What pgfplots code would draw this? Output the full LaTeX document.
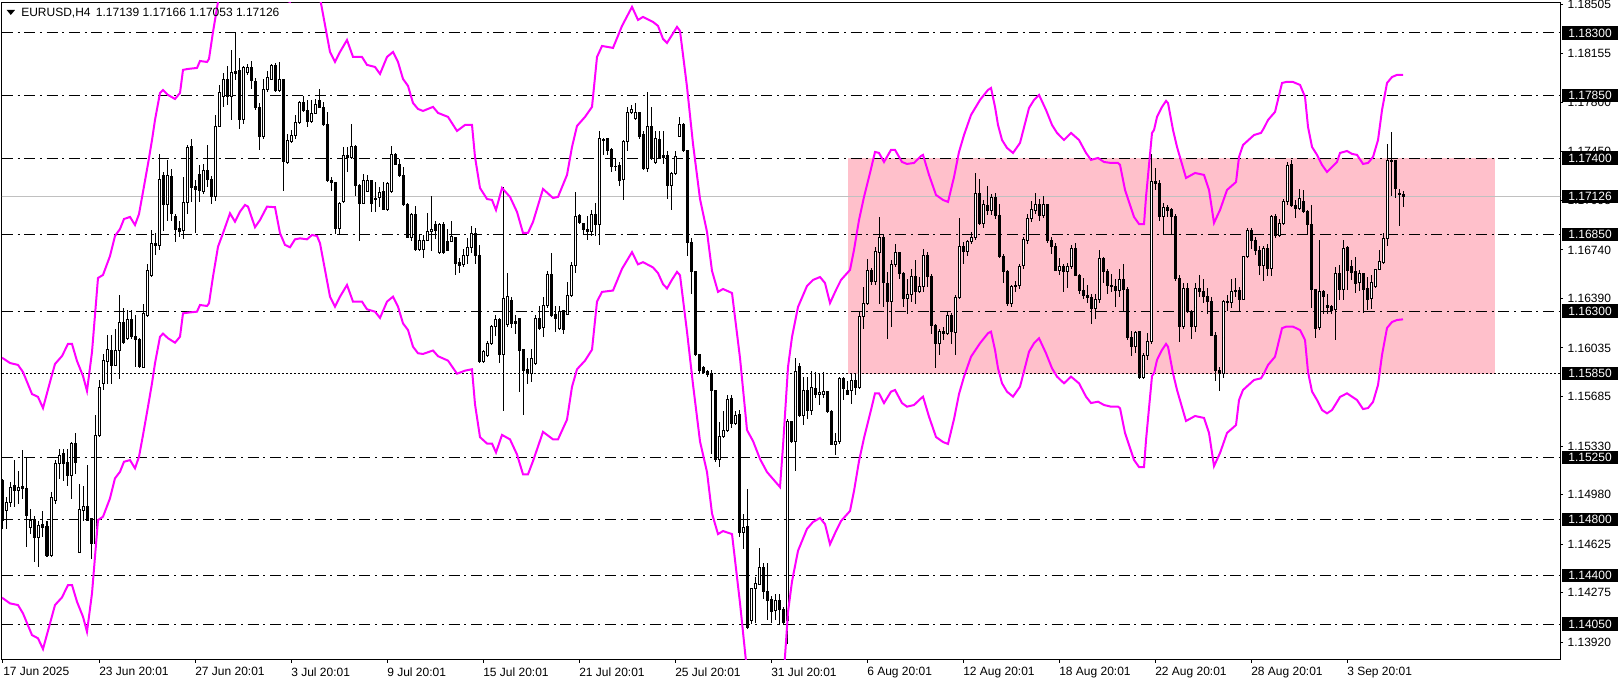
\documentclass[border=0pt]{standalone}
\usepackage{fontspec}
\setmainfont{Liberation Sans}
\usepackage{pgfplots}
\pgfplotsset{compat=1.18}
\usepackage{pgfplotstable}

\definecolor{envmag}{RGB}{255,0,255}
\definecolor{zonepink}{RGB}{255,192,203}
\definecolor{bidgrey}{RGB}{192,192,192}

% EURUSD H4 candles: bar index, open, high, low, close
\pgfplotstableread{
k o h l c
0 1.15083 1.15095 1.14735 1.14795
1 1.14867 1.14963 1.14735 1.14927
2 1.14927 1.15071 1.14891 1.15035
3 1.15047 1.15227 1.14891 1.15011
4 1.15011 1.15155 1.14915 1.15035
5 1.15040 1.15299 1.14951 1.15023
6 1.15023 1.15251 1.14603 1.14831
7 1.14747 1.14879 1.14699 1.14795
8 1.14800 1.14831 1.14495 1.14675
9 1.14675 1.14795 1.14459 1.14759
10 1.14764 1.14867 1.14675 1.14747
11 1.14752 1.14795 1.14536 1.14543
12 1.14543 1.14999 1.14536 1.14963
13 1.14939 1.15232 1.14915 1.15203
14 1.15203 1.15311 1.15095 1.15263
15 1.15275 1.15311 1.15083 1.15203
16 1.15215 1.15311 1.15047 1.15119
17 1.15119 1.15359 1.14951 1.15352
18 1.15347 1.15424 1.15131 1.15215
19 1.14567 1.15059 1.14562 1.14872
20 1.14867 1.15047 1.14795 1.14896
21 1.14896 1.15191 1.14790 1.14795
22 1.14807 1.14810 1.14519 1.14632
23 1.14632 1.15551 1.14627 1.15407
24 1.15407 1.15803 1.15395 1.15755
25 1.15779 1.15995 1.15731 1.15942
26 1.15942 1.16127 1.15779 1.16024
27 1.16019 1.16127 1.15779 1.15911
28 1.15911 1.16175 1.15905 1.16019
29 1.16019 1.16415 1.15815 1.16218
30 1.16218 1.16319 1.16067 1.16072
31 1.16103 1.16307 1.16091 1.16240
32 1.16240 1.16307 1.16103 1.16115
33 1.16120 1.16271 1.15899 1.16096
34 1.16096 1.16110 1.15895 1.15899
35 1.15899 1.16350 1.15895 1.16283
36 1.16271 1.16643 1.16259 1.16595
37 1.16559 1.16883 1.16547 1.16787
38 1.16787 1.16859 1.16703 1.16775
39 1.16775 1.17432 1.16739 1.17244
40 1.17276 1.17300 1.16878 1.17071
41 1.17071 1.17384 1.16950 1.17276
42 1.17271 1.17324 1.16950 1.17003
43 1.16979 1.16999 1.16794 1.16890
44 1.16893 1.16950 1.16830 1.16873
45 1.16878 1.17264 1.16818 1.17083
46 1.17083 1.17493 1.16999 1.17481
47 1.17481 1.17541 1.17083 1.17187
48 1.17196 1.17240 1.16866 1.17177
49 1.17283 1.17348 1.17083 1.17167
50 1.17162 1.17360 1.17143 1.17312
51 1.17312 1.17493 1.17191 1.17244
52 1.17244 1.17276 1.17071 1.17124
53 1.17124 1.17710 1.17095 1.17630
54 1.17630 1.17926 1.17625 1.17873
55 1.17842 1.18016 1.17770 1.17967
56 1.17967 1.18059 1.17782 1.17842
57 1.17842 1.18175 1.17673 1.18016
58 1.18011 1.18300 1.17963 1.18023
59 1.18028 1.18119 1.17613 1.17678
60 1.17678 1.18064 1.17644 1.18052
61 1.18016 1.18076 1.17999 1.18054
62 1.18054 1.18102 1.17895 1.17958
63 1.17955 1.17975 1.17746 1.17765
64 1.17765 1.17794 1.17461 1.17553
65 1.17553 1.17967 1.17540 1.17895
66 1.17895 1.18030 1.17878 1.17982
67 1.17963 1.18078 1.17958 1.18064
68 1.18064 1.18088 1.17878 1.17883
69 1.17883 1.18095 1.17875 1.17963
70 1.17963 1.17970 1.17162 1.17379
71 1.17372 1.17577 1.17360 1.17524
72 1.17517 1.17601 1.17510 1.17565
73 1.17565 1.17710 1.17541 1.17657
74 1.17657 1.17813 1.17649 1.17799
75 1.17799 1.17847 1.17734 1.17741
76 1.17746 1.17818 1.17625 1.17661
77 1.17661 1.17818 1.17655 1.17722
78 1.17722 1.17823 1.17717 1.17789
79 1.17818 1.17895 1.17758 1.17765
80 1.17765 1.17804 1.17630 1.17642
81 1.17642 1.17734 1.17228 1.17240
82 1.17240 1.17264 1.17167 1.17223
83 1.17223 1.17228 1.16854 1.16897
84 1.16897 1.17083 1.16854 1.17071
85 1.17090 1.17481 1.17076 1.17420
86 1.17420 1.17481 1.17300 1.17408
87 1.17408 1.17644 1.17396 1.17485
88 1.17485 1.17493 1.17131 1.17203
89 1.17203 1.17215 1.16806 1.17076
90 1.17076 1.17283 1.17071 1.17240
91 1.17162 1.17283 1.17155 1.17240
92 1.17240 1.17244 1.17011 1.17076
93 1.17114 1.17228 1.17011 1.17105
94 1.17119 1.17191 1.17047 1.17155
95 1.17162 1.17228 1.17028 1.17035
96 1.17035 1.17228 1.17023 1.17220
97 1.17162 1.17485 1.17148 1.17428
98 1.17428 1.17437 1.17348 1.17355
99 1.17355 1.17396 1.17264 1.17276
100 1.17273 1.17336 1.17059 1.17064
101 1.17064 1.17076 1.16825 1.16830
102 1.16830 1.17003 1.16806 1.16994
103 1.16994 1.17059 1.16734 1.16746
104 1.16741 1.16854 1.16734 1.16806
105 1.16746 1.16849 1.16685 1.16811
106 1.16811 1.17003 1.16806 1.16873
107 1.16873 1.17131 1.16734 1.16890
108 1.16926 1.16950 1.16818 1.16878
109 1.16721 1.16931 1.16709 1.16921
110 1.16926 1.16945 1.16709 1.16721
111 1.16801 1.16890 1.16734 1.16739
112 1.16801 1.16950 1.16794 1.16835
113 1.16830 1.16835 1.16560 1.16640
114 1.16653 1.16684 1.16575 1.16631
115 1.16637 1.16747 1.16615 1.16700
116 1.16700 1.16826 1.16637 1.16757
117 1.16757 1.16911 1.16716 1.16857
118 1.16857 1.16898 1.16640 1.16700
119 1.16700 1.16780 1.15931 1.15937
120 1.15937 1.16025 1.15925 1.16009
121 1.15978 1.16088 1.15969 1.16066
122 1.16066 1.16198 1.16056 1.16189
123 1.16189 1.16276 1.16119 1.16239
124 1.16239 1.16251 1.15925 1.15987
125 1.15987 1.17190 1.15580 1.16393
126 1.16207 1.16575 1.16189 1.16402
127 1.16377 1.16402 1.16182 1.16213
128 1.16229 1.16276 1.16135 1.16213
129 1.16245 1.16250 1.15717 1.16019
130 1.16025 1.16030 1.15554 1.15874
131 1.15884 1.15962 1.15774 1.15853
132 1.15853 1.16025 1.15790 1.15962
133 1.15925 1.16276 1.15915 1.16245
134 1.16245 1.16339 1.16167 1.16176
135 1.16182 1.16402 1.16113 1.16339
136 1.16339 1.16590 1.16323 1.16565
137 1.16565 1.16716 1.16261 1.16270
138 1.16276 1.16339 1.16151 1.16245
139 1.16176 1.16339 1.16167 1.16301
140 1.16301 1.16305 1.16135 1.16167
141 1.16276 1.16512 1.16270 1.16414
142 1.16414 1.16653 1.16402 1.16628
143 1.16628 1.17155 1.16575 1.16983
144 1.16989 1.16998 1.16929 1.16936
145 1.16929 1.16935 1.16857 1.16889
146 1.16889 1.16983 1.16810 1.16873
147 1.16873 1.17030 1.16841 1.16998
148 1.16998 1.17077 1.16841 1.16920
149 1.16920 1.17595 1.16779 1.17538
150 1.17538 1.17545 1.17422 1.17526
151 1.17538 1.17548 1.17422 1.17454
152 1.17463 1.17470 1.17297 1.17338
153 1.17344 1.17391 1.17310 1.17338
154 1.17344 1.17370 1.17203 1.17243
155 1.17243 1.17532 1.17102 1.17517
156 1.17517 1.17768 1.17454 1.17727
157 1.17727 1.17783 1.17715 1.17752
158 1.17683 1.17799 1.17675 1.17727
159 1.17727 1.17735 1.17538 1.17557
160 1.17570 1.17595 1.17312 1.17328
161 1.17328 1.17878 1.17297 1.17626
162 1.17626 1.17768 1.17391 1.17407
163 1.17369 1.17595 1.17360 1.17538
164 1.17538 1.17595 1.17400 1.17407
165 1.17407 1.17595 1.17360 1.17422
166 1.17422 1.17454 1.17108 1.17203
167 1.17203 1.17297 1.17024 1.17287
168 1.17287 1.17454 1.17280 1.17413
169 1.17557 1.17695 1.17550 1.17642
170 1.17642 1.17650 1.17444 1.17454
171 1.17454 1.17460 1.16700 1.16794
172 1.16794 1.16826 1.16427 1.16584
173 1.16584 1.16590 1.15978 1.15987
174 1.15987 1.15990 1.15852 1.15874
175 1.15893 1.15905 1.15850 1.15862
176 1.15868 1.15880 1.15830 1.15843
177 1.15853 1.15875 1.15271 1.15727
178 1.15727 1.15730 1.15215 1.15234
179 1.15234 1.15507 1.15184 1.15397
180 1.15397 1.15585 1.15390 1.15444
181 1.15444 1.15695 1.15430 1.15664
182 1.15673 1.15695 1.15460 1.15491
183 1.15491 1.15585 1.15480 1.15554
184 1.15560 1.15592 1.14675 1.14712
185 1.14712 1.14838 1.14587 1.14744
186 1.14753 1.15020 1.14015 1.14031
187 1.14078 1.14310 1.14050 1.14304
188 1.14304 1.14392 1.14062 1.14345
189 1.14336 1.14596 1.14330 1.14455
190 1.14455 1.14493 1.14235 1.14282
191 1.14282 1.14493 1.14078 1.14219
192 1.14229 1.14250 1.14060 1.14141
193 1.14147 1.14270 1.14078 1.14219
194 1.14219 1.14270 1.14047 1.14157
195 1.14157 1.14170 1.14047 1.14062
196 1.14078 1.15523 1.13906 1.15507
197 1.15507 1.15510 1.15350 1.15366
198 1.15366 1.15962 1.15152 1.15868
199 1.15905 1.15925 1.15540 1.15553
200 1.15553 1.15829 1.15481 1.15728
201 1.15728 1.15829 1.15529 1.15584
202 1.15584 1.15872 1.15553 1.15752
203 1.15745 1.15865 1.15673 1.15701
204 1.15701 1.15853 1.15625 1.15718
205 1.15700 1.15865 1.15680 1.15720
206 1.15719 1.15728 1.15565 1.15577
207 1.15577 1.15589 1.15337 1.15344
208 1.15344 1.15421 1.15265 1.15361
209 1.15361 1.15829 1.15349 1.15817
210 1.15817 1.15824 1.15661 1.15745
211 1.15733 1.15800 1.15697 1.15704
212 1.15733 1.15853 1.15632 1.15805
213 1.15805 1.15853 1.15697 1.15752
214 1.15752 1.16295 1.15740 1.16259
215 1.16259 1.16475 1.16175 1.16355
216 1.16355 1.16679 1.16343 1.16595
217 1.16595 1.16607 1.16487 1.16511
218 1.16511 1.16763 1.16487 1.16727
219 1.16719 1.16979 1.16355 1.16830
220 1.16830 1.16847 1.16331 1.16503
221 1.16503 1.16583 1.16103 1.16367
222 1.16367 1.16667 1.16187 1.16638
223 1.16638 1.16787 1.16619 1.16719
224 1.16719 1.16727 1.16528 1.16571
225 1.16571 1.16583 1.16331 1.16391
226 1.16391 1.16535 1.16283 1.16422
227 1.16422 1.16607 1.16367 1.16547
228 1.16547 1.16667 1.16355 1.16439
229 1.16439 1.16547 1.16430 1.16475
230 1.16475 1.16751 1.16439 1.16703
231 1.16703 1.16727 1.16475 1.16547
232 1.16547 1.16565 1.16139 1.16199
233 1.16199 1.16206 1.15894 1.16067
234 1.16067 1.16175 1.15983 1.16151
235 1.16151 1.16187 1.16091 1.16139
236 1.16139 1.16295 1.16127 1.16271
237 1.16271 1.16290 1.16067 1.16151
238 1.16151 1.16415 1.15983 1.16398
239 1.16398 1.16967 1.16391 1.16768
240 1.16768 1.16799 1.16643 1.16727
241 1.16727 1.16811 1.16700 1.16799
242 1.16799 1.16870 1.16780 1.16830
243 1.16830 1.17290 1.16811 1.17147
244 1.17147 1.17250 1.16920 1.16931
245 1.16931 1.17100 1.16900 1.17063
246 1.17063 1.17200 1.16991 1.17027
247 1.17027 1.17140 1.16990 1.17118
248 1.17118 1.17150 1.16960 1.16991
249 1.16991 1.17070 1.16680 1.16696
250 1.16696 1.16710 1.16500 1.16583
251 1.16583 1.16600 1.16340 1.16355
252 1.16355 1.16490 1.16331 1.16475
253 1.16475 1.16520 1.16440 1.16487
254 1.16487 1.16640 1.16460 1.16624
255 1.16624 1.16835 1.16600 1.16811
256 1.16811 1.17000 1.16780 1.16967
257 1.16967 1.17090 1.16940 1.17027
258 1.17027 1.17150 1.17000 1.17070
259 1.17070 1.17110 1.16950 1.16991
260 1.16991 1.17130 1.16970 1.17070
261 1.17070 1.17075 1.16790 1.16811
262 1.16811 1.16830 1.16710 1.16763
263 1.16763 1.16790 1.16590 1.16595
264 1.16595 1.16680 1.16560 1.16619
265 1.16619 1.16640 1.16440 1.16583
266 1.16583 1.16650 1.16470 1.16619
267 1.16619 1.16775 1.16600 1.16751
268 1.16751 1.16790 1.16550 1.16559
269 1.16559 1.16570 1.16420 1.16451
270 1.16451 1.16540 1.16390 1.16415
271 1.16415 1.16490 1.16360 1.16400
272 1.16400 1.16420 1.16210 1.16319
273 1.16319 1.16420 1.16240 1.16384
274 1.16384 1.16740 1.16360 1.16679
275 1.16679 1.16690 1.16500 1.16583
276 1.16583 1.16600 1.16420 1.16487
277 1.16487 1.16570 1.16440 1.16475
278 1.16475 1.16530 1.16330 1.16451
279 1.16451 1.16600 1.16400 1.16528
280 1.16528 1.16640 1.16300 1.16456
281 1.16456 1.16470 1.16090 1.16110
282 1.16110 1.16160 1.15980 1.16048
283 1.16048 1.16160 1.16000 1.16151
284 1.16151 1.16160 1.15810 1.15827
285 1.15827 1.16000 1.15810 1.15983
286 1.15983 1.16140 1.15950 1.16079
287 1.16079 1.17430 1.16060 1.17231
288 1.17231 1.17330 1.17170 1.17219
289 1.17219 1.17240 1.16950 1.16979
290 1.16979 1.17080 1.16850 1.17046
291 1.17046 1.17060 1.16980 1.17027
292 1.17027 1.17040 1.16850 1.16979
293 1.16979 1.17000 1.16520 1.16535
294 1.16535 1.16560 1.16080 1.16192
295 1.16192 1.16500 1.16170 1.16463
296 1.16463 1.16500 1.16290 1.16295
297 1.16295 1.16310 1.16100 1.16187
298 1.16187 1.16500 1.16150 1.16463
299 1.16463 1.16560 1.16400 1.16439
300 1.16439 1.16530 1.16360 1.16403
301 1.16403 1.16470 1.16280 1.16367
302 1.16367 1.16400 1.16120 1.16127
303 1.16127 1.16150 1.15800 1.15875
304 1.15875 1.15900 1.15730 1.15851
305 1.15851 1.16380 1.15820 1.16367
306 1.16367 1.16420 1.16300 1.16360
307 1.16360 1.16530 1.16320 1.16439
308 1.16439 1.16540 1.16400 1.16451
309 1.16451 1.16470 1.16300 1.16384
310 1.16384 1.16700 1.16380 1.16691
311 1.16691 1.16900 1.16680 1.16883
312 1.16883 1.16900 1.16750 1.16811
313 1.16811 1.16830 1.16700 1.16739
314 1.16739 1.16770 1.16560 1.16631
315 1.16631 1.16770 1.16520 1.16751
316 1.16751 1.16780 1.16550 1.16607
317 1.16607 1.16990 1.16550 1.16979
318 1.16979 1.17000 1.16830 1.16847
319 1.16847 1.16960 1.16830 1.16931
320 1.16931 1.17110 1.16920 1.17087
321 1.17087 1.17370 1.17060 1.17351
322 1.17357 1.17386 1.17050 1.17057
323 1.17062 1.17098 1.16966 1.17038
324 1.17038 1.17182 1.17031 1.17110
325 1.17086 1.17170 1.17007 1.17014
326 1.17019 1.17026 1.16853 1.16925
327 1.16925 1.17062 1.16325 1.16455
328 1.16455 1.16460 1.16109 1.16174
329 1.16181 1.16815 1.16167 1.16443
330 1.16443 1.16450 1.16282 1.16402
331 1.16330 1.16426 1.16282 1.16342
332 1.16335 1.16347 1.16282 1.16306
333 1.16311 1.16618 1.16090 1.16570
334 1.16570 1.16630 1.16378 1.16455
335 1.16455 1.16815 1.16378 1.16750
336 1.16757 1.16767 1.16450 1.16594
337 1.16623 1.16666 1.16522 1.16575
338 1.16589 1.16690 1.16431 1.16503
339 1.16503 1.16594 1.16450 1.16570
340 1.16570 1.16575 1.16287 1.16455
341 1.16462 1.16546 1.16306 1.16383
342 1.16390 1.16558 1.16318 1.16503
343 1.16474 1.16606 1.16470 1.16599
344 1.16599 1.16738 1.16595 1.16654
345 1.16654 1.16858 1.16642 1.16822
346 1.16822 1.17501 1.16767 1.17386
347 1.17386 1.17590 1.17127 1.17374
348 1.17386 1.17390 1.17117 1.17182
349 1.17146 1.17182 1.16914 1.17136
350 1.17139 1.17166 1.17053 1.17126
}\candles

% envelope bands (upper, lower)
\pgfplotstableread{
k up lo
-0.25 1.15965 1.14240
1.75 1.15927 1.14199
3.75 1.15913 1.14187
5 1.15862 1.14127
7.25 1.15704 1.13971
8.75 1.15683 1.13948
10 1.15603 1.13871
11.75 1.15790 1.14055
13 1.15920 1.14187
14.75 1.15977 1.14242
16.25 1.16064 1.14331
17.25 1.16064 1.14331
18.5 1.15941 1.14211
20 1.15834 1.14103
21 1.15726 1.13995
22.25 1.16006 1.14271
23.75 1.16538 1.14798
25 1.16560 1.14822
26.75 1.16696 1.14954
28 1.16840 1.15098
29.25 1.16890 1.15145
30.25 1.16962 1.15217
31.75 1.16977 1.15229
33 1.16919 1.15170
34 1.16998 1.15253
35 1.17157 1.15409
36.25 1.17358 1.15613
37.25 1.17530 1.15781
38 1.17674 1.15925
39.25 1.17868 1.16116
40 1.17890 1.16138
41.25 1.17854 1.16105
43 1.17825 1.16073
44.25 1.17868 1.16116
45 1.18034 1.16284
46.25 1.18041 1.16289
48.5 1.18048 1.16296
49.25 1.18098 1.16344
51 1.18091 1.16337
51.5 1.18113 1.16356
52.5 1.18307 1.16548
53.75 1.18523 1.16763
55 1.18616 1.16860
56.75 1.18760 1.17003
58 1.18702 1.16943
59.25 1.18774 1.17015
60.5 1.18825 1.17063
61.25 1.18810 1.17051
63 1.18666 1.16903
64.25 1.18717 1.16955
66 1.18810 1.17051
68 1.18810 1.17047
69.25 1.18623 1.16860
70.5 1.18537 1.16776
71.75 1.18523 1.16759
73 1.18580 1.16816
74.25 1.18587 1.16823
76 1.18580 1.16816
77.25 1.18609 1.16847
78.5 1.18602 1.16840
79.25 1.18551 1.16788
80.5 1.18357 1.16596
81.75 1.18163 1.16404
83 1.18091 1.16332
84.25 1.18163 1.16404
86 1.18249 1.16488
87.5 1.18127 1.16368
89.75 1.18127 1.16368
91 1.18070 1.16313
93 1.18055 1.16296
94.25 1.18005 1.16251
96 1.18127 1.16368
97.5 1.18163 1.16404
98.75 1.18091 1.16332
100 1.17969 1.16212
101.25 1.17919 1.16164
102.5 1.17796 1.16044
103.75 1.17753 1.15997
105 1.17739 1.15992
107.5 1.17768 1.16017
108.75 1.17725 1.15976
111.25 1.17696 1.15944
113.5 1.17595 1.15850
115.5 1.17638 1.15872
117.25 1.17638 1.15882
118 1.17408 1.15630
119.25 1.17185 1.15394
121 1.17106 1.15348
122.25 1.17099 1.15348
123.25 1.17027 1.15284
124.75 1.17185 1.15410
126.75 1.17121 1.15378
128.5 1.17013 1.15269
130 1.16862 1.15127
131.25 1.16862 1.15127
132.5 1.16941 1.15222
135 1.17178 1.15432
137.5 1.17113 1.15378
138.75 1.17121 1.15378
141 1.17279 1.15520
142.25 1.17480 1.15756
143.5 1.17631 1.15882
145.5 1.17696 1.15944
147.25 1.17768 1.16023
148.5 1.18127 1.16369
149.75 1.18206 1.16438
152.5 1.18192 1.16448
154.75 1.18350 1.16604
157.25 1.18487 1.16724
158.75 1.18393 1.16636
160 1.18415 1.16652
162.5 1.18379 1.16614
163.75 1.18350 1.16573
165 1.18257 1.16494
166 1.18228 1.16463
167.25 1.18285 1.16526
168.5 1.18343 1.16582
169.25 1.18314 1.16558
171 1.17912 1.16152
172.5 1.17502 1.15772
174.25 1.17106 1.15363
176 1.16869 1.15143
177.25 1.16589 1.14845
178.75 1.16438 1.14697
180 1.16459 1.14719
182.25 1.16430 1.14697
184.25 1.15963 1.14201
186 1.15445 1.13712
187.5 1.15366 1.13633
189.25 1.15237 1.13511
191 1.15143 1.13418
192.5 1.15093 1.13367
194.25 1.15035 1.13303
195 1.15330 1.13605
196.25 1.15898 1.14137
197.25 1.16114 1.14357
198.75 1.16330 1.14577
201 1.16481 1.14735
202.5 1.16524 1.14784
204.25 1.16545 1.14813
205.5 1.16502 1.14769
206.75 1.16358 1.14624
208.25 1.16452 1.14719
209.5 1.16524 1.14791
211.75 1.16596 1.14863
212.75 1.16740 1.15007
214 1.16955 1.15222
215.25 1.17121 1.15388
216.75 1.17293 1.15560
218 1.17444 1.15709
219 1.17437 1.15709
220.25 1.17372 1.15639
222 1.17459 1.15721
223 1.17459 1.15733
224.75 1.17372 1.15639
226 1.17358 1.15613
227.75 1.17365 1.15625
229.5 1.17415 1.15673
230 1.17423 1.15685
231.5 1.17279 1.15541
233.25 1.17135 1.15395
235 1.17099 1.15359
236.25 1.17085 1.15345
237.75 1.17264 1.15524
239 1.17444 1.15704
240.25 1.17566 1.15829
242 1.17710 1.15972
244.25 1.17818 1.16069
246.25 1.17890 1.16141
247 1.17904 1.16152
248 1.17768 1.16021
248.75 1.17638 1.15889
249.75 1.17530 1.15781
251 1.17473 1.15721
252.5 1.17437 1.15685
254.25 1.17509 1.15757
256.5 1.17760 1.16008
257.75 1.17818 1.16069
259 1.17854 1.16105
260.75 1.17746 1.15997
262.25 1.17638 1.15889
263.5 1.17581 1.15829
265.25 1.17530 1.15781
267 1.17581 1.15829
269 1.17530 1.15781
270.75 1.17437 1.15685
272 1.17387 1.15639
273.75 1.17401 1.15649
275.25 1.17372 1.15625
277 1.17365 1.15613
278.75 1.17365 1.15613
279.25 1.17351 1.15602
280.5 1.17171 1.15424
282.75 1.16977 1.15230
284 1.16926 1.15179
285.25 1.16926 1.15179
285.75 1.17121 1.15373
287.25 1.17581 1.15834
287.75 1.17602 1.15853
288.5 1.17696 1.15949
289.75 1.17768 1.16021
290.75 1.17811 1.16064
291.25 1.17796 1.16044
292.5 1.17602 1.15853
293.5 1.17480 1.15733
295.75 1.17257 1.15510
298 1.17293 1.15546
300.25 1.17279 1.15532
301.5 1.17171 1.15424
302.75 1.16934 1.15186
304.25 1.17027 1.15280
306 1.17171 1.15424
308.25 1.17228 1.15481
309 1.17408 1.15661
310 1.17494 1.15733
312.75 1.17566 1.15805
314.5 1.17581 1.15817
315.25 1.17617 1.15853
316.25 1.17674 1.15913
318 1.17732 1.15972
319.75 1.17940 1.16177
320.75 1.17947 1.16188
322.5 1.17947 1.16188
324.25 1.17926 1.16164
325.5 1.17840 1.16092
326.25 1.17624 1.15862
327.25 1.17480 1.15722
328.5 1.17423 1.15661
329.75 1.17351 1.15589
331 1.17300 1.15565
332.25 1.17336 1.15589
333.5 1.17372 1.15647
334.25 1.17437 1.15683
336 1.17451 1.15709
337.25 1.17430 1.15685
338.5 1.17423 1.15661
340 1.17358 1.15596
341.25 1.17365 1.15603
342.5 1.17408 1.15647
343.75 1.17530 1.15769
344.75 1.17746 1.15985
346 1.17940 1.16179
347.25 1.17983 1.16222
348.5 1.17998 1.16236
350 1.17998 1.16241
}\bands

\pgfplotsset{
    candle part/.style={only marks, mark=*, mark size=0pt,
        mark options={draw=none, fill=none}, forget plot,
        error bars/y dir=both, error bars/y explicit, error bars/error mark=none,
        error bars/error bar style={#1}},
}

\begin{document}
\begin{tikzpicture}
\begin{axis}[
    at={(0pt,0pt)}, anchor=south west,
    width=1168.5pt, height=492.75pt, scale only axis,
    xmin=-0.25, xmax=389.25,
    ymin=1.13792, ymax=1.18515,
    axis line style={black, line width=0.75pt},
    tick style={black, line width=0.75pt},
    major tick length=2.25pt,
    tick align=outside,
    xtick pos=bottom, ytick pos=right, yticklabel pos=right,
    xtick={0,24,...,336},
    xticklabels={17 Jun 2025, 23 Jun 20:01, 27 Jun 20:01, 3 Jul 20:01, 9 Jul 20:01,
        15 Jul 20:01, 21 Jul 20:01, 25 Jul 20:01, 31 Jul 20:01, 6 Aug 20:01,
        12 Aug 20:01, 18 Aug 20:01, 22 Aug 20:01, 28 Aug 20:01, 3 Sep 20:01},
    ytick={1.18505,1.18155,1.17800,1.17450,1.17095,1.16740,1.16390,1.16035,
        1.15685,1.15330,1.14980,1.14625,1.14275,1.13920},
    yticklabels={1.18505,1.18155,1.17800,1.17450,1.17095,1.16740,1.16390,1.16035,
        1.15685,1.15330,1.14980,1.14625,1.14275,1.13920},
    tick label style={font=\fontsize{9}{10}\selectfont, inner sep=0pt},
    xticklabel style={anchor=north west, yshift=-3.25pt},
    yticklabel style={anchor=west, xshift=3.25pt},
    extra y ticks={1.18300,1.17850,1.17400,1.17126,1.16850,1.16300,1.15850,1.15250,1.14800,1.14400,1.14050},
    extra y tick labels={1.18300,1.17850,1.17400,1.17126,1.16850,1.16300,1.15850,1.15250,1.14800,1.14400,1.14050},
    extra y tick style={major tick length=0pt,
        tick label style={fill=black, text=white, minimum width=42pt, minimum height=10pt, xshift=-1.95pt}},
]

% rectangle zone
\addplot[fill=zonepink, draw=none, forget plot] coordinates {(211.25,1.1585) (373,1.1585) (373,1.174) (211.25,1.174)} -- cycle;

% bid line
\addplot[bidgrey, line width=0.75pt, forget plot] coordinates {(-1,1.17126) (390,1.17126)};

% horizontal levels
\pgfplotsinvokeforeach{1.183,1.1785,1.174,1.1685,1.163,1.1525,1.148,1.144,1.1405}{
    \addplot[black, line width=0.75pt, dash pattern=on 8.25pt off 3.5pt on 1.5pt off 3.5pt, forget plot]
        coordinates {(-0.25,#1) (389.25,#1)};
}
\addplot[black, line width=0.75pt, dash pattern=on 1.5pt off 1.5pt, forget plot]
    coordinates {(-0.25,1.1585) (389.25,1.1585)};

% wicks
\addplot[candle part={black, line width=0.75pt}]
    table[x=k, y expr={(\thisrow{h}+\thisrow{l})/2}, y error expr={(\thisrow{h}-\thisrow{l})/2}] {\candles};

% bodies
\addplot[candle part={black, line width=2.25pt}]
    table[x=k, y expr={(\thisrow{o}+\thisrow{c})/2}, y error expr={abs(\thisrow{c}-\thisrow{o})/2+0.000036}] {\candles};

% hollow bull bodies
\addplot[unbounded coords=discard, candle part={white, line width=0.75pt}]
    table[x=k, y expr={\thisrow{c}-\thisrow{o}>0.00015 ? (\thisrow{o}+\thisrow{c})/2 : nan},
        y error expr={abs(\thisrow{c}-\thisrow{o})/2-0.000036}] {\candles};

% envelopes
\addplot[envmag, line width=1.5pt, forget plot] table[x=k, y=up] {\bands};
\addplot[envmag, line width=1.5pt, forget plot] table[x=k, y=lo] {\bands};
\end{axis}

% chart caption
\fill (3.5pt,487.5pt) -- (9.75pt,487.5pt) -- (6.6pt,483.75pt) -- cycle;
\node[anchor=base west, inner sep=0pt, font=\fontsize{9}{10}\selectfont] at (14.25pt,482.5pt)
    {EURUSD,H4\hspace{4pt}1.17139 1.17166 1.17053 1.17126};

\pgfresetboundingbox
\useasboundingbox (-1.5pt,-18pt) rectangle (1216.5pt,495pt);
\end{tikzpicture}
\end{document}
